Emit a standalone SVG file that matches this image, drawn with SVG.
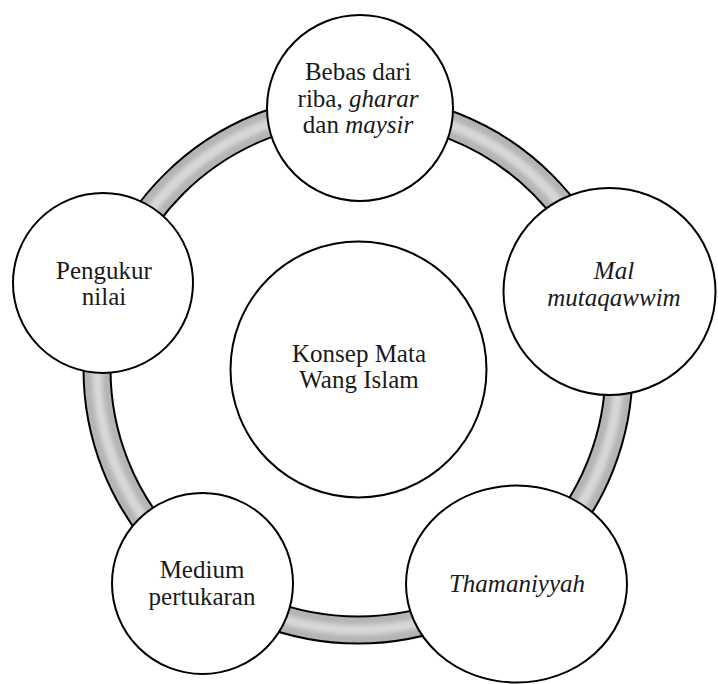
<svg xmlns="http://www.w3.org/2000/svg" width="718" height="684" viewBox="0 0 718 684">
<defs>
<filter id="soft" x="-10%" y="-10%" width="120%" height="120%"><feGaussianBlur stdDeviation="2"/></filter>
</defs>
<style>
.node{fill:#fff;stroke:#000;stroke-width:2}
.t{font-family:'Liberation Serif',serif;font-size:25px;fill:#1a1a1a;text-anchor:middle}
.i{font-style:italic}
</style>
<rect width="718" height="684" fill="#fff"/>
<g id="connectors">
<circle cx="358" cy="369" r="261" fill="none" stroke="#000" stroke-width="29"/>
<circle cx="358" cy="369" r="261" fill="none" stroke="#b4b4b4" stroke-width="25"/>
<circle cx="358" cy="369" r="261" fill="none" stroke="#d8d8d8" stroke-width="10" filter="url(#soft)"/>
</g>
<g id="center">
<circle class="node" cx="358.5" cy="369.5" r="128"/>
<text class="t" x="359" y="362" font-family="Liberation Serif">Konsep Mata</text>
<text class="t" x="359" y="388" font-family="Liberation Serif">Wang Islam</text>
</g>
<g id="top">
<circle class="node" cx="360" cy="108" r="93"/>
<text class="t" x="358" y="80" font-family="Liberation Serif">Bebas dari</text>
<text class="t" x="358" y="107" font-family="Liberation Serif">riba, <tspan class="i">gharar</tspan></text>
<text class="t" x="358" y="133" font-family="Liberation Serif">dan <tspan class="i">maysir</tspan></text>
</g>
<g id="right">
<ellipse class="node" cx="609.5" cy="291.5" rx="106" ry="103.5"/>
<text class="t i" x="614" y="279" font-family="Liberation Serif">Mal</text>
<text class="t i" x="614" y="306" font-family="Liberation Serif">mutaqawwim</text>
</g>
<g id="bottomright">
<ellipse class="node" cx="516.5" cy="584" rx="110.5" ry="98.5"/>
<text class="t i" x="517" y="592" font-family="Liberation Serif">Thamaniyyah</text>
</g>
<g id="bottomleft">
<circle class="node" cx="202.5" cy="583.5" r="90.5"/>
<text class="t" x="202" y="578" font-family="Liberation Serif">Medium</text>
<text class="t" x="202" y="605" font-family="Liberation Serif">pertukaran</text>
</g>
<g id="left">
<circle class="node" cx="103" cy="283" r="90"/>
<text class="t" x="104" y="279" font-family="Liberation Serif">Pengukur</text>
<text class="t" x="104" y="305" font-family="Liberation Serif">nilai</text>
</g>
</svg>
